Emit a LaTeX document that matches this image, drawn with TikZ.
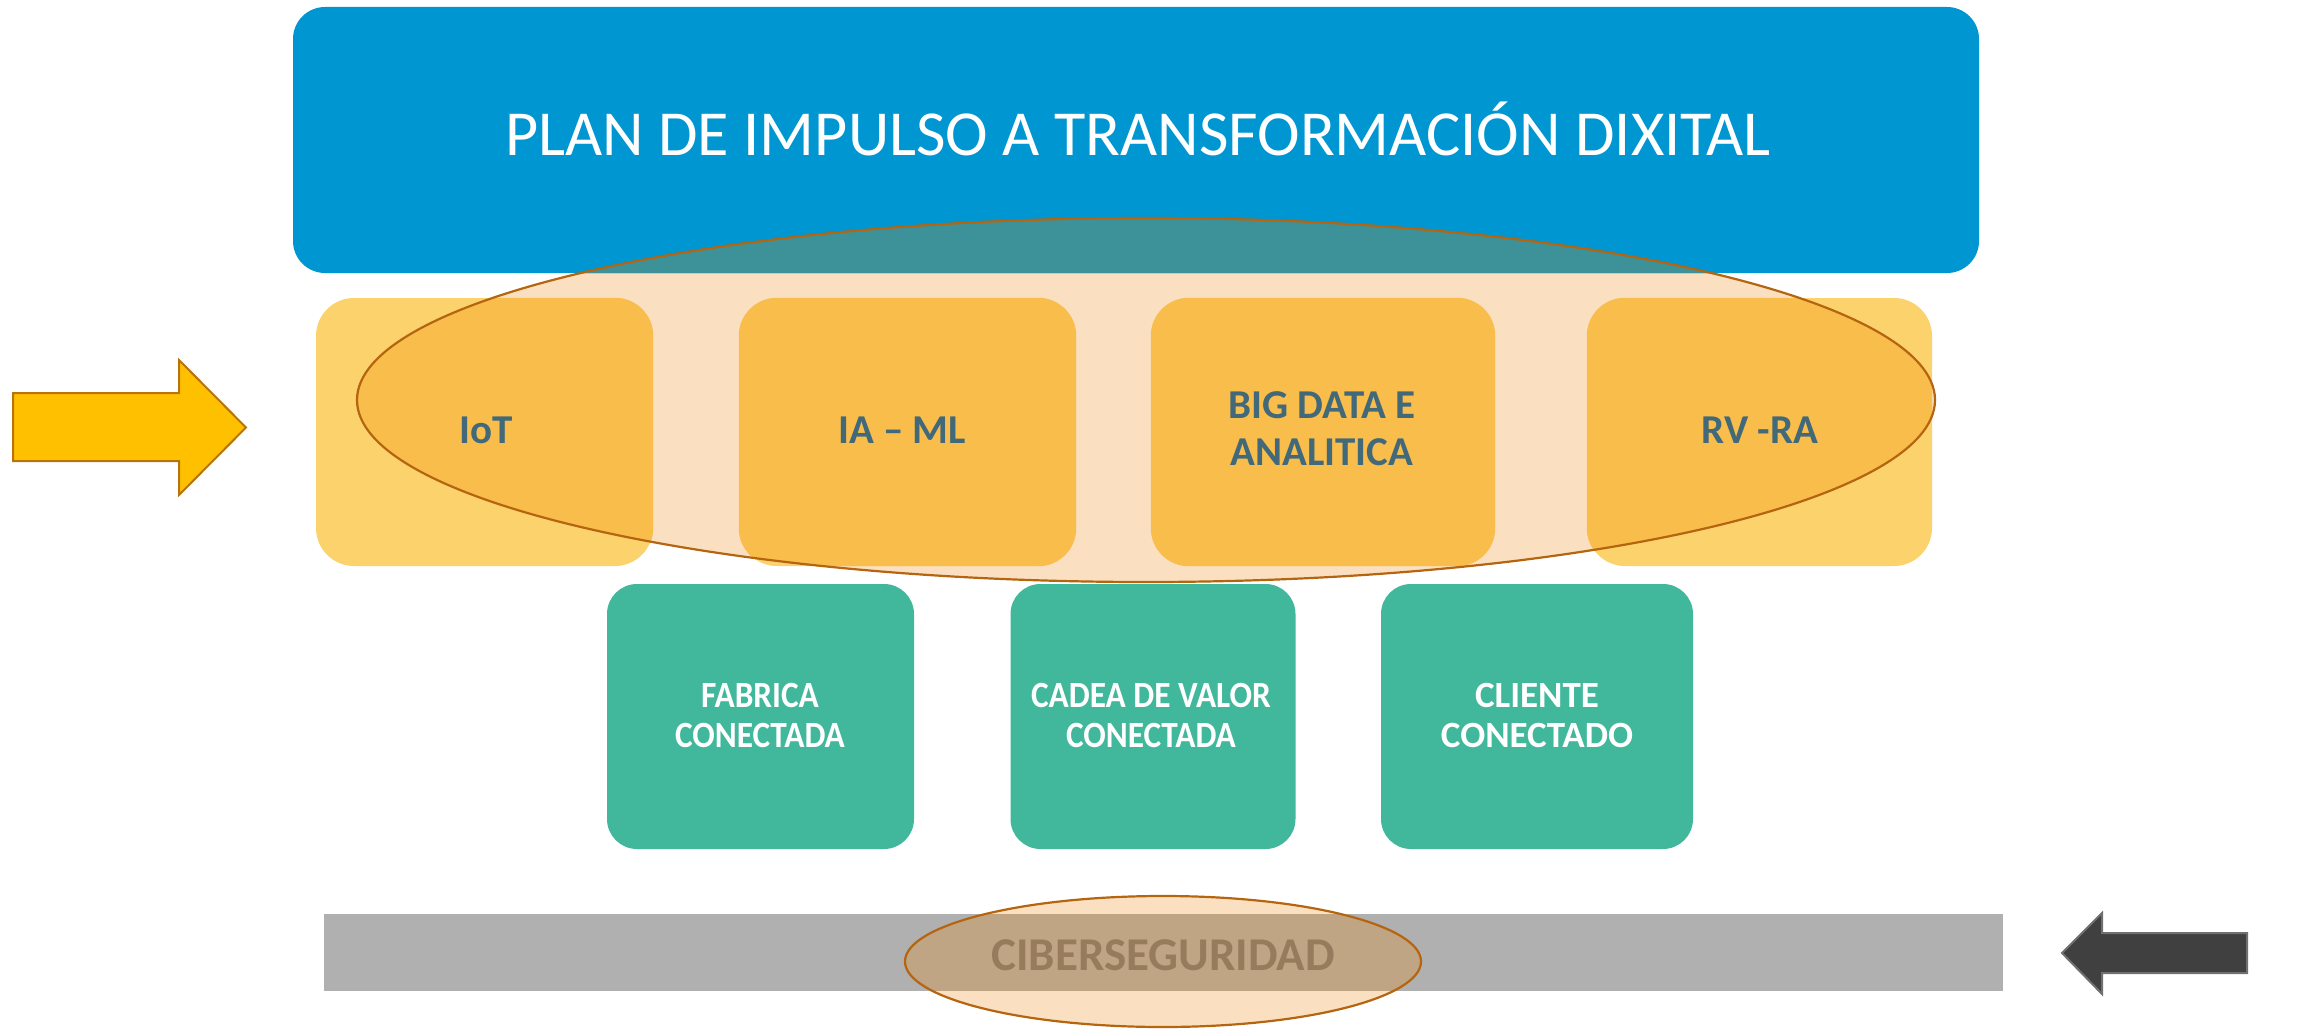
\documentclass[tikz,border=0pt]{standalone}
\usepackage{fontspec}
\setmainfont{Carlito}
\newfontfamily\condfont[FakeStretch=0.9]{Carlito}
\definecolor{planblue}{HTML}{0096D1}
\definecolor{planteal}{HTML}{3D9199}
\definecolor{peach}{HTML}{FAE0C1}
\definecolor{ylight}{HTML}{FCD26C}
\definecolor{ydark}{HTML}{F9BD4C}
\definecolor{gboxc}{HTML}{41B79B}
\definecolor{slate}{HTML}{41697A}
\definecolor{edge}{HTML}{B5650F}
\definecolor{barg}{HTML}{B0B0B0}
\definecolor{barpeach}{HTML}{C0A585}
\definecolor{cybtext}{HTML}{977B5D}
\definecolor{arrowy}{HTML}{FFC000}
\definecolor{arrowyb}{HTML}{B8730A}
\definecolor{arrowd}{HTML}{404040}
\definecolor{arrowdb}{HTML}{707070}
\begin{document}
\begin{tikzpicture}[x=1pt,y=-1pt,
  box/.style={rectangle, inner sep=0pt, draw=none},
  ybox/.style={box, fill=ylight, rounded corners=38pt, minimum height=268pt},
  gbox/.style={box, fill=gboxc, rounded corners=30pt, minimum height=265pt},
  ylab/.style={inner sep=0pt, text=slate, font=\bfseries\fontsize{41}{47}\selectfont, align=center},
  glab/.style={inner sep=0pt, text=white, font=\bfseries\fontsize{37}{40}\selectfont, align=center},
  rim/.style={draw=edge, line width=2.2pt}]
\useasboundingbox (0,0) rectangle (2323,1030);
\coordinate (ec) at (1146,400);
\coordinate (cc) at (1163,961.5);
% big ellipse background
\fill[peach] (ec) ellipse [x radius=789pt, y radius=182pt];
% blue title box
\node[box, fill=planblue, rounded corners=32pt, minimum width=1686pt, minimum height=266pt] (plan) at (1136,140) {};
\begin{scope}
  \clip (ec) ellipse [x radius=789pt, y radius=182pt];
  \fill[planteal, rounded corners=32pt] (plan.south west) rectangle (plan.north east);
\end{scope}
\node[anchor=base, inner sep=0pt, text=white, font=\fontsize{64.2}{76}\selectfont] (plantext) at (1138,156) {PLAN DE IMPULSO A TRANSFORMACIÓN DIXITAL};
% technology boxes
\node[ybox, minimum width=337pt] (iot) at (484.5,432) {};
\node[ybox, minimum width=337pt] (iaml) at (907.5,432) {};
\node[ybox, minimum width=344pt] (big) at (1323,432) {};
\node[ybox, minimum width=345pt] (rvra) at (1759.5,432) {};
\begin{scope}
  \clip (ec) ellipse [x radius=789pt, y radius=182pt];
  \foreach \b in {iot,iaml,big,rvra}
    \fill[ydark, rounded corners=38pt] (\b.south west) rectangle (\b.north east);
\end{scope}
\draw[rim] (ec) ellipse [x radius=789pt, y radius=182pt];
\node[ylab, anchor=base] (iottext) at (486,443) {IoT};
\node[ylab, anchor=base] (iamltext) at (902,443) {IA – ML};
\node[ylab] (bigtext) at (1322,429) {BIG DATA E\\ANALITICA};
\node[ylab, anchor=base] (rvratext) at (1760,443) {RV -RA};
% connected boxes
\node[gbox, minimum width=307pt] (fab) at (760.5,716.5) {};
\node[gbox, minimum width=285pt] (cad) at (1153,716.5) {};
\node[gbox, minimum width=312pt] (cli) at (1537,716.5) {};
\node[glab, font=\condfont\bfseries\fontsize{37}{40}\selectfont] (fabtext) at (760,715) {FABRICA\\CONECTADA};
\node[glab, font=\condfont\bfseries\fontsize{37}{40}\selectfont] (cadtext) at (1151,715) {CADEA DE VALOR\\CONECTADA};
\node[glab] (clitext) at (1537,715) {CLIENTE\\CONECTADO};
% cybersecurity bar
\node[box, fill=barg, minimum width=1679pt, minimum height=77pt] (bar) at (1163.5,952.5) {};
\fill[peach] (cc) ellipse [x radius=258pt, y radius=65.5pt];
\begin{scope}
  \clip (cc) ellipse [x radius=258pt, y radius=65.5pt];
  \fill[barpeach] (bar.south west) rectangle (bar.north east);
\end{scope}
\draw[rim] (cc) ellipse [x radius=258pt, y radius=65.5pt];
\node[anchor=base, inner sep=0pt, text=cybtext, font=\bfseries\fontsize{47}{56}\selectfont] (cybtext) at (1163,970) {CIBERSEGURIDAD};
% side arrows
\draw[fill=arrowy, draw=arrowyb, line width=2pt, line join=miter]
  (13,393) -- (179,393) -- (179,360) -- (246,427.5) -- (179,495) -- (179,461) -- (13,461) -- cycle;
\draw[fill=arrowd, draw=arrowdb, line width=2pt, line join=miter]
  (2247,933) -- (2102,933) -- (2102,913) -- (2062,953) -- (2102,994) -- (2102,973) -- (2247,973) -- cycle;
\end{tikzpicture}
\end{document}
